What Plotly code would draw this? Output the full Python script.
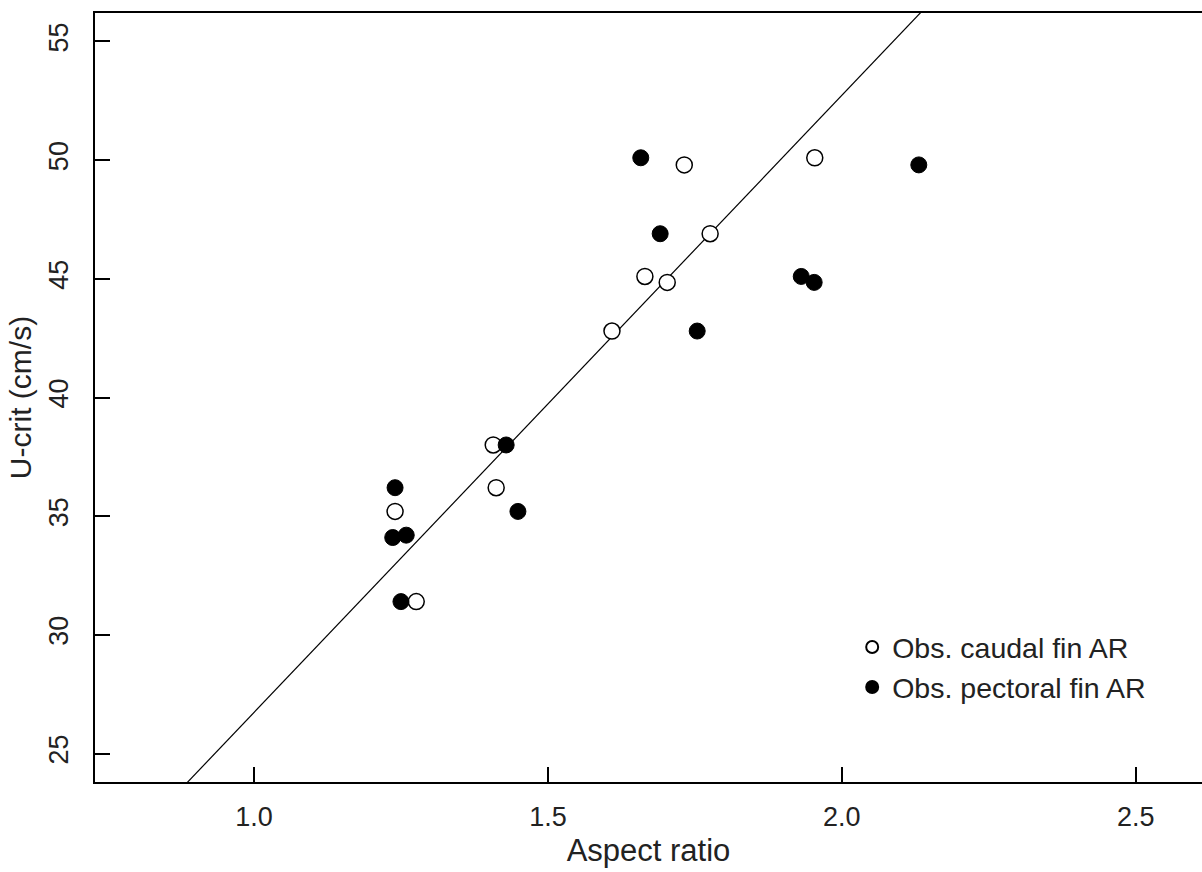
import plotly.graph_objects as go

# Data
caudal_ar = [1.954, 1.732, 1.776, 1.665, 1.703, 1.609, 1.407, 1.412, 1.240, 1.276]
caudal_ucrit = [50.1, 49.8, 46.9, 45.1, 44.85, 42.8, 38.0, 36.2, 35.2, 31.4]

pectoral_ar = [1.658, 2.131, 1.691, 1.931, 1.953, 1.754, 1.429, 1.240, 1.449, 1.236, 1.259, 1.250]
pectoral_ucrit = [50.1, 49.8, 46.9, 45.1, 44.85, 42.8, 38.0, 36.2, 35.2, 34.1, 34.2, 31.4]

# Regression line: U = intercept + slope * AR
intercept = 0.73
slope = 26.0

x_ticks = [1.0, 1.5, 2.0, 2.5]
x_tick_labels = ["1.0", "1.5", "2.0", "2.5"]
y_ticks = [25, 30, 35, 40, 45, 50, 55]
y_tick_labels = ["25", "30", "35", "40", "45", "50", "55"]

x_range = [0.7295, 2.6128]
y_range = [23.8, 56.2]

FONT = "Liberation Sans, Arial, sans-serif"
TXT = "#222222"

fig = go.Figure()

line_x = [x_range[0] - 1, x_range[1] + 1]
line_y = [intercept + slope * v for v in line_x]
fig.add_trace(go.Scatter(x=line_x, y=line_y, mode="lines",
                         line=dict(color="black", width=1.2),
                         showlegend=False, hoverinfo="skip"))

fig.add_trace(go.Scatter(x=caudal_ar, y=caudal_ucrit, mode="markers",
                         name="Obs. caudal fin AR", legendgroup="a",
                         marker=dict(symbol="circle", size=16, color="white",
                                     line=dict(color="black", width=1.5))))
fig.add_trace(go.Scatter(x=pectoral_ar, y=pectoral_ucrit, mode="markers",
                         name="Obs. pectoral fin AR", legendgroup="b",
                         marker=dict(symbol="circle", size=16, color="black",
                                     line=dict(color="black", width=1))))

fig.update_layout(
    width=1202, height=872,
    margin=dict(l=95, r=0, t=13, b=90),
    paper_bgcolor="white", plot_bgcolor="white",
    font=dict(family=FONT, color=TXT, size=27),
    legend=dict(x=0.684, y=0.149, xanchor="left", yanchor="middle",
                bgcolor="rgba(0,0,0,0)", font=dict(size=28.5, color=TXT),
                itemsizing="constant", tracegroupgap=0),
    xaxis=dict(range=x_range, tickmode="array", tickvals=x_ticks,
               ticktext=x_tick_labels, ticks="inside", ticklen=15,
               tickwidth=1.5, tickcolor="black", showgrid=False,
               zeroline=False, showline=True, linecolor="black",
               linewidth=2, mirror=True, ticklabelstandoff=10,
               tickfont=dict(size=27, color=TXT),
               title=dict(text="Aspect ratio", font=dict(size=31, color=TXT),
                          standoff=8)),
    yaxis=dict(range=y_range, tickmode="array", tickvals=y_ticks,
               ticktext=y_tick_labels, ticks="inside", ticklen=15,
               tickwidth=1.5, tickcolor="black", showgrid=False,
               zeroline=False, showline=True, linecolor="black",
               linewidth=2, tickangle=-90, ticklabelstandoff=14,
               tickfont=dict(size=27, color=TXT),
               title=dict(text="U-crit (cm/s)", font=dict(size=30, color=TXT),
                          standoff=4)),
)

fig.write_html("out.html")
